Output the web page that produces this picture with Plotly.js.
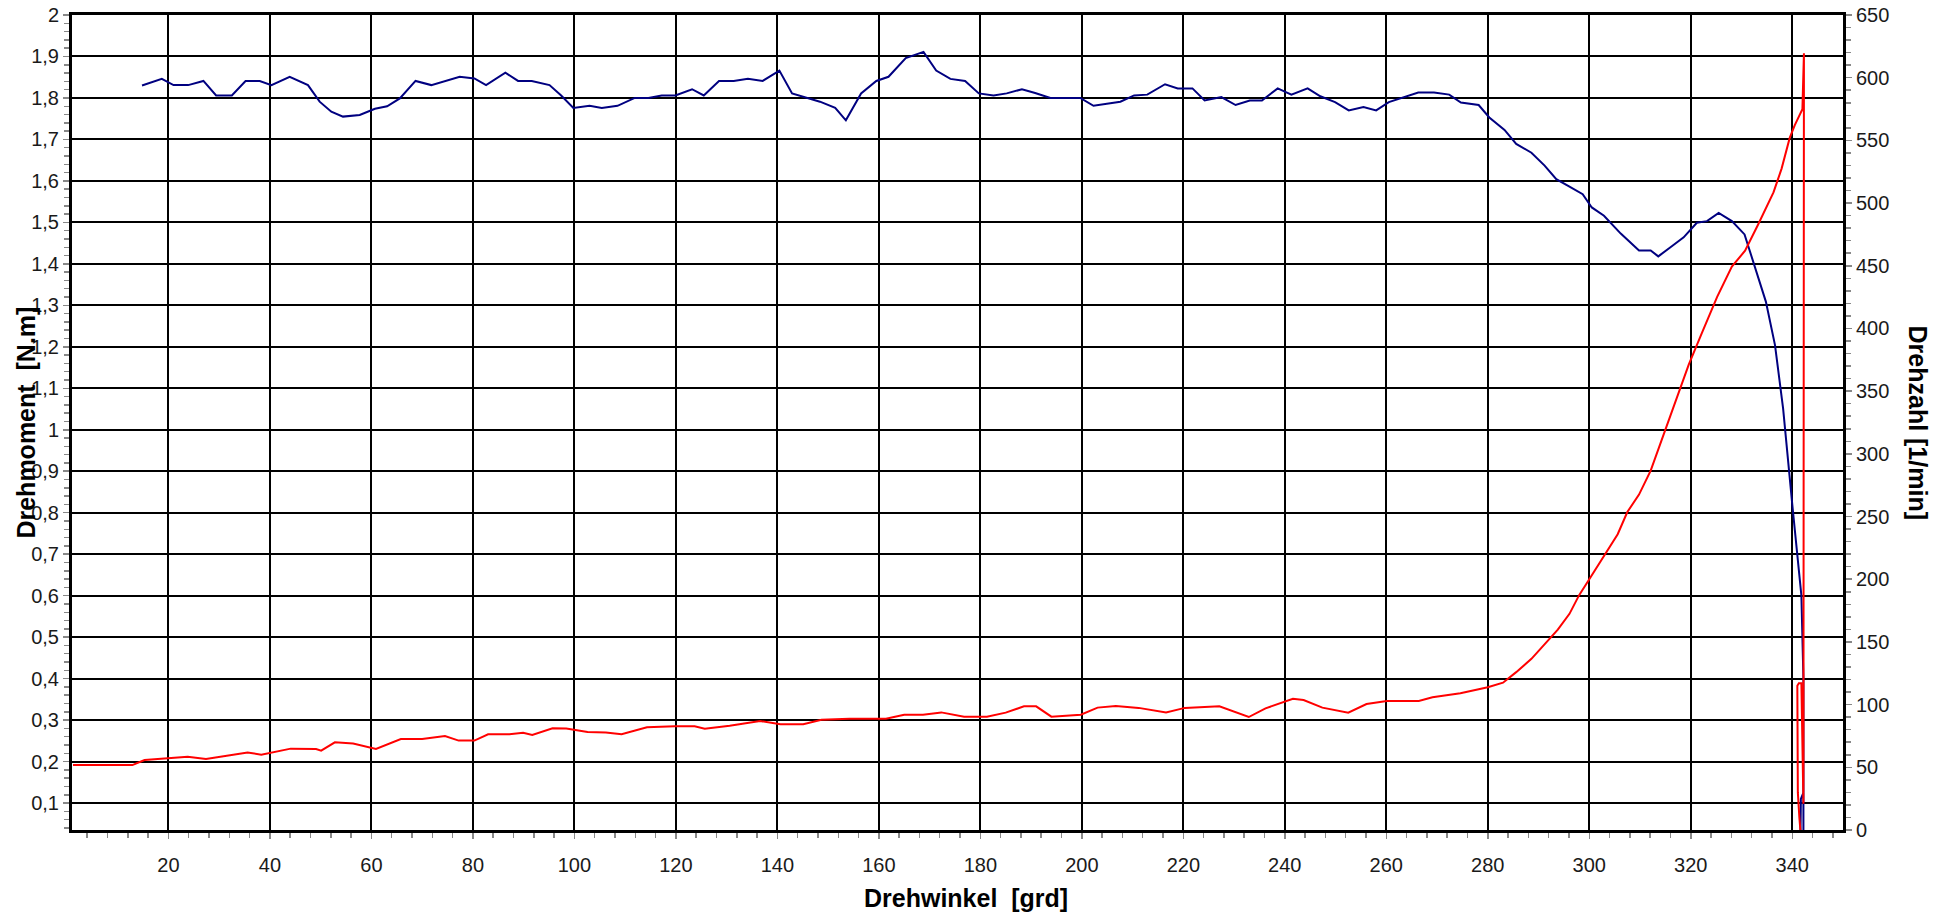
<!DOCTYPE html>
<html>
<head>
<meta charset="utf-8">
<script src="https://cdn.plot.ly/plotly-3.0.1.min.js"></script>
<style>
html,body{margin:0;padding:0;background:#fff;}
#chart{width:1953px;height:917px;}
</style>
</head>
<body>
<div id="chart"></div>
<script>
// Drehmoment (torque, left axis) vs Drehwinkel
const torqueAngle = [
  14.8, 18.7, 21.0, 23.9, 26.9, 29.4, 32.5, 35.2, 38.0, 40.3,
  43.9, 47.5, 49.8, 52.1, 54.4, 57.7, 60.7, 63.1, 65.6, 68.7,
  71.8, 74.8, 77.4, 80.3, 82.6, 86.4, 88.9, 91.6, 95.1, 97.4,
  99.8, 103.0, 105.4, 108.5, 111.9, 114.6, 117.2, 119.9, 123.2, 125.5,
  128.5, 131.4, 134.2, 137.1, 140.4, 142.9, 145.5, 148.4, 151.4, 153.5,
  156.5, 159.5, 161.9, 165.3, 168.8, 171.3, 174.1, 177.0, 179.7, 182.6,
  185.2, 188.2, 190.8, 193.8, 196.7, 199.7, 202.3, 205.0, 207.6, 210.3,
  212.9, 216.4, 218.9, 221.8, 224.2, 227.5, 230.3, 233.1, 235.5, 238.6,
  241.3, 244.5, 247.0, 249.9, 252.6, 255.5, 258.0, 260.5, 263.8, 266.3,
  269.4, 272.4, 274.7, 278.2, 280.3, 283.3, 285.6, 288.6, 291.2, 293.5,
  296.1, 298.7, 300.5, 302.9, 306.2, 309.8, 312.1, 313.6, 316.0, 318.6,
  321.2, 323.2, 325.5, 328.1, 330.6, 332.7, 334.8, 336.6, 338.2, 340.0,
  341.8, 342.2, 342.2, 341.6, 341.7, 342.2, 342.2, 342.2
];
const torqueValues = [
  1.830, 1.846, 1.831, 1.831, 1.841, 1.806, 1.806, 1.841, 1.841, 1.831,
  1.851, 1.831, 1.791, 1.767, 1.755, 1.759, 1.774, 1.780, 1.799, 1.841,
  1.831, 1.841, 1.851, 1.847, 1.831, 1.861, 1.841, 1.841, 1.831, 1.806,
  1.776, 1.781, 1.776, 1.781, 1.800, 1.800, 1.806, 1.806, 1.821, 1.806,
  1.841, 1.841, 1.846, 1.841, 1.866, 1.811, 1.802, 1.791, 1.776, 1.746,
  1.811, 1.841, 1.851, 1.896, 1.911, 1.866, 1.846, 1.841, 1.811, 1.806,
  1.811, 1.821, 1.812, 1.800, 1.800, 1.800, 1.781, 1.786, 1.791, 1.806,
  1.808, 1.833, 1.823, 1.823, 1.794, 1.802, 1.783, 1.794, 1.794, 1.823,
  1.808, 1.823, 1.804, 1.790, 1.770, 1.778, 1.770, 1.790, 1.803, 1.813,
  1.813, 1.808, 1.789, 1.783, 1.753, 1.723, 1.689, 1.668, 1.637, 1.604,
  1.586, 1.568, 1.536, 1.516, 1.473, 1.432, 1.432, 1.418, 1.440, 1.464,
  1.499, 1.503, 1.523, 1.503, 1.471, 1.390, 1.309, 1.204, 1.051, 0.820,
  0.600, 0.400, 0.000, 0.000, 0.110, 0.125, 0.140, 0.000
];

// Drehzahl (speed, right axis) vs Drehwinkel
const speedAngle = [
  1.2, 12.9, 15.3, 19.3, 23.8, 27.4, 32.0, 35.6, 38.3, 44.1,
  49.1, 50.1, 52.8, 56.4, 60.9, 65.8, 70.0, 74.5, 77.2, 80.3,
  83.0, 87.2, 89.9, 91.7, 95.7, 98.4, 102.6, 106.2, 109.3, 114.3,
  119.8, 123.7, 125.7, 130.6, 136.6, 140.6, 145.1, 148.7, 154.2, 161.4,
  165.0, 168.7, 172.3, 176.8, 181.3, 185.0, 188.6, 191.0, 194.0, 199.8,
  203.1, 206.7, 211.2, 216.6, 220.3, 227.1, 232.9, 236.2, 241.6, 243.7,
  247.4, 252.5, 256.1, 260.1, 266.4, 269.1, 274.6, 280.0, 283.0, 285.6,
  288.6, 291.5, 293.8, 296.1, 298.0, 300.0, 303.3, 305.6, 307.5, 309.8,
  312.1, 314.7, 317.0, 319.6, 322.2, 325.2, 328.1, 330.7, 333.3, 336.3,
  337.9, 339.5, 340.5, 342.0, 342.3, 342.2, 341.8, 341.3, 341.0, 341.1,
  341.4, 341.6
];
const speedValues = [
  51.8, 51.8, 55.8, 56.9, 58.5, 56.6, 59.5, 61.9, 60.1, 64.9,
  64.6, 63.3, 69.9, 68.9, 64.6, 72.6, 72.6, 75.0, 71.3, 71.3,
  76.3, 76.3, 77.6, 75.8, 81.1, 80.9, 78.2, 77.8, 76.3, 81.9,
  82.7, 82.7, 80.8, 83.2, 86.9, 84.3, 84.3, 88.0, 88.8, 88.8,
  92.0, 92.0, 93.8, 90.4, 90.4, 93.6, 98.6, 98.6, 90.4, 92.0,
  97.6, 98.9, 97.4, 93.8, 97.4, 98.6, 90.1, 97.0, 104.7, 103.7,
  97.6, 93.6, 100.5, 102.9, 102.9, 105.8, 109.0, 113.8, 117.5, 125.9,
  136.5, 149.2, 159.8, 172.4, 187.3, 200.0, 221.1, 235.9, 253.6, 267.5,
  286.6, 316.2, 341.5, 371.1, 396.5, 425.2, 449.3, 462.0, 483.1, 508.5,
  527.5, 552.0, 562.2, 574.8, 619.5, 21.0, 117.0, 117.0, 115.0, 30.0,
  10.0, 0.0
];

const xTitle = 'Drehwinkel  [grd]';
const yTitle = 'Drehmoment  [N.m]';
const y2Title = 'Drehzahl [1/min]';

const tickFont = {family: 'Liberation Sans, Arial, sans-serif', size: 20, color: '#1a1a1a'};
const titleFont = {family: 'Liberation Sans, Arial, sans-serif', size: 25, color: '#000'};

const traces = [
  {x: speedAngle, y: speedValues, yaxis: 'y2', type: 'scatter', mode: 'lines',
   line: {color: '#ff0000', width: 2}, hoverinfo: 'skip'},
  {x: torqueAngle, y: torqueValues, yaxis: 'y', type: 'scatter', mode: 'lines',
   line: {color: '#000080', width: 2}, hoverinfo: 'skip'}
];

const layout = {
  width: 1953, height: 917,
  margin: {l: 72, r: 110, t: 15, b: 87, pad: 0},
  paper_bgcolor: '#fff', plot_bgcolor: '#fff',
  showlegend: false,
  separators: ',.',
  xaxis: {
    range: [1, 350], tick0: 0, dtick: 20,
    showgrid: true, gridcolor: '#000', gridwidth: 2, zeroline: false,
    showline: true, linecolor: '#000', linewidth: 3, mirror: true,
    ticks: 'outside', ticklen: 6, tickwidth: 1.5, tickcolor: '#888',
    ticklabelstandoff: 9,
    minor: {dtick: 4, tick0: 0, ticks: 'outside', ticklen: 5, tickwidth: 1.5, tickcolor: '#888', showgrid: false},
    tickfont: tickFont
  },
  yaxis: {
    range: [0.035, 2], tick0: 0, dtick: 0.1,
    showgrid: true, gridcolor: '#000', gridwidth: 2, zeroline: false,
    showline: true, linecolor: '#000', linewidth: 3,
    ticks: 'outside', ticklen: 6, tickwidth: 1.5, tickcolor: '#888',
    minor: {dtick: 0.02, tick0: 0, ticks: 'outside', ticklen: 5, tickwidth: 1.5, tickcolor: '#888', showgrid: false},
    tickfont: tickFont
  },
  yaxis2: {
    overlaying: 'y', side: 'right',
    range: [0, 650], tick0: 0, dtick: 50,
    showgrid: false, zeroline: false,
    showline: true, linecolor: '#000', linewidth: 3,
    ticks: 'outside', ticklen: 6, tickwidth: 1.5, tickcolor: '#888',
    minor: {dtick: 10, tick0: 0, ticks: 'outside', ticklen: 5, tickwidth: 1.5, tickcolor: '#888', showgrid: false},
    tickfont: tickFont
  },
  annotations: [
    {text: '<b>' + xTitle + '</b>', xref: 'paper', yref: 'paper', x: 0.5048, y: -0.0835,
     xanchor: 'center', yanchor: 'middle', showarrow: false, font: titleFont},
    {text: '<b>' + yTitle + '</b>', xref: 'paper', yref: 'paper', x: -0.0265, y: 0.5,
     xanchor: 'center', yanchor: 'middle', textangle: -90, showarrow: false, font: titleFont},
    {text: '<b>' + y2Title + '</b>', xref: 'paper', yref: 'paper', x: 1.0429, y: 0.5,
     xanchor: 'center', yanchor: 'middle', textangle: 90, showarrow: false, font: titleFont}
  ]
};

Plotly.newPlot('chart', traces, layout, {staticPlot: true, displayModeBar: false});
</script>
</body>
</html>
